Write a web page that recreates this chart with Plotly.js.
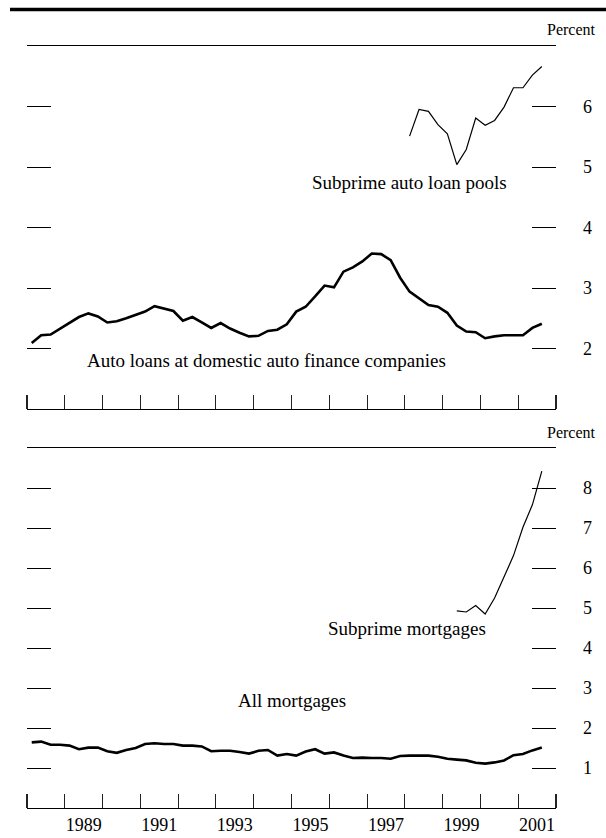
<!DOCTYPE html>
<html>
<head>
<meta charset="utf-8">
<script src="https://cdn.plot.ly/plotly-3.0.1.min.js"></script>
<style>html,body{margin:0;padding:0;background:#fff;}#chart{width:606px;height:838px;}</style>
</head>
<body>
<div id="chart"></div>
<script>
// Quarterly observations, 1988 Q1 to 2001 Q3
const autoFinanceStart = "1988Q1";
const autoFinance = [2.09, 2.22, 2.23, 2.33, 2.42, 2.52, 2.58, 2.53, 2.43, 2.45, 2.50, 2.55, 2.61, 2.70,
  2.66, 2.62, 2.46, 2.52, 2.43, 2.34, 2.42, 2.33, 2.26, 2.20, 2.21, 2.29, 2.31, 2.40,
  2.61, 2.69, 2.86, 3.04, 3.01, 3.27, 3.34, 3.44, 3.57, 3.56, 3.46, 3.17, 2.94, 2.83,
  2.72, 2.69, 2.59, 2.38, 2.28, 2.27, 2.17, 2.20, 2.22, 2.22, 2.22, 2.34, 2.41];

const subprimeAutoStart = "1998Q1";
const subprimeAuto = [5.51, 5.95, 5.92, 5.70, 5.55, 5.04, 5.29, 5.81, 5.69, 5.77, 5.99, 6.31, 6.31, 6.52, 6.66];

const allMortgagesStart = "1988Q1";
const allMortgages = [1.64, 1.66, 1.58, 1.58, 1.56, 1.47, 1.51, 1.51, 1.42, 1.38, 1.45, 1.50, 1.60, 1.62,
  1.60, 1.60, 1.56, 1.56, 1.54, 1.42, 1.43, 1.43, 1.40, 1.36, 1.43, 1.45, 1.31, 1.35,
  1.31, 1.41, 1.47, 1.36, 1.39, 1.31, 1.25, 1.26, 1.25, 1.25, 1.23, 1.30, 1.31, 1.31,
  1.31, 1.28, 1.23, 1.21, 1.19, 1.13, 1.11, 1.14, 1.19, 1.32, 1.35, 1.44, 1.51];

const subprimeMortgagesStart = "1999Q2";
const subprimeMortgages = [4.93, 4.90, 5.06, 4.85, 5.25, 5.77, 6.31, 7.02, 7.58, 8.42];

const yearTicks = [1988, 1989, 1990, 1991, 1992, 1993, 1994, 1995, 1996, 1997, 1998, 1999, 2000, 2001, 2002];
const yearLabels = ["1989", "1991", "1993", "1995", "1997", "1999", "2001"];
const topTicks = [2, 3, 4, 5, 6];
const bottomTicks = [1, 2, 3, 4, 5, 6, 7, 8];

const labels = {
  subAuto: "Subprime auto loan pools",
  autoFin: "Auto loans at domestic auto finance companies",
  subMort: "Subprime mortgages",
  allMort: "All mortgages",
  unit: "Percent"
};

// quarter label -> position in the middle of that quarter
function quarterX(startLabel, n) {
  const y0 = parseInt(startLabel.slice(0, 4), 10);
  const q0 = parseInt(startLabel.slice(5), 10) - 1;
  const xs = [];
  for (let i = 0; i < n; i++) {
    const q = q0 + i;
    xs.push(y0 + Math.floor(q / 4) + ((q % 4) + 0.5) / 4);
  }
  return xs;
}

const FONT = "Liberation Serif, Times New Roman, serif";

const traces = [
  { x: quarterX(autoFinanceStart, autoFinance.length), y: autoFinance, xaxis: "x", yaxis: "y",
    mode: "lines", line: { color: "#000", width: 2.6 }, hoverinfo: "skip" },
  { x: quarterX(subprimeAutoStart, subprimeAuto.length), y: subprimeAuto, xaxis: "x", yaxis: "y",
    mode: "lines", line: { color: "#000", width: 1.2 }, hoverinfo: "skip" },
  { x: quarterX(allMortgagesStart, allMortgages.length), y: allMortgages, xaxis: "x2", yaxis: "y2",
    mode: "lines", line: { color: "#000", width: 2.6 }, hoverinfo: "skip" },
  { x: quarterX(subprimeMortgagesStart, subprimeMortgages.length), y: subprimeMortgages, xaxis: "x2", yaxis: "y2",
    mode: "lines", line: { color: "#000", width: 1.2 }, hoverinfo: "skip" }
];

// plot area: x 27..556, y 46..808
const W = 606, H = 838, L = 27, R = 50, T = 46, B = 30;
const ph = H - T - B, pw = W - L - R;
const py = v => (H - B - v) / ph;
const px = v => (v - L) / pw;

const xCommon = {
  range: [yearTicks[0], yearTicks[yearTicks.length - 1]],
  showgrid: false, zeroline: false,
  showline: true, mirror: true, linecolor: "#000", linewidth: 1.2,
  ticks: "",
  minor: { tickmode: "array", tickvals: yearTicks, ticks: "inside", ticklen: 14, tickwidth: 1.1, tickcolor: "#222", showgrid: false },
  fixedrange: true
};

const yCommon = {
  side: "right", showgrid: false, zeroline: false, showline: false,
  ticks: "inside", ticklen: 24, tickwidth: 1, tickcolor: "#000", mirror: "ticks",
  tickfont: { family: FONT, size: 18, color: "#000" }, ticklabelstandoff: 26,
  tickmode: "array", fixedrange: true
};

const layout = {
  width: W, height: H,
  margin: { l: L, r: R, t: T, b: B },
  paper_bgcolor: "#fff", plot_bgcolor: "#fff",
  showlegend: false,
  font: { family: FONT, size: 18, color: "#000" },
  xaxis: Object.assign({}, xCommon, { anchor: "y", showticklabels: false }),
  xaxis2: Object.assign({}, xCommon, {
    anchor: "y2", tickmode: "array",
    tickvals: yearLabels.map(s => parseInt(s, 10) + 0.5), ticktext: yearLabels,
    tickfont: { family: FONT, size: 18, color: "#000" }
  }),
  yaxis: Object.assign({}, yCommon, { domain: [py(409), 1], range: [1, 7], tickvals: topTicks }),
  yaxis2: Object.assign({}, yCommon, { domain: [0, py(448)], range: [0, 9], tickvals: bottomTicks }),
  shapes: [
    { type: "line", xref: "paper", yref: "paper", x0: px(10), x1: px(606), y0: py(9.5), y1: py(9.5),
      line: { color: "#000", width: 3.5 } }
  ],
  annotations: [
    { text: labels.unit, xref: "paper", yref: "paper", x: px(598), y: py(30), xanchor: "right", yanchor: "middle",
      showarrow: false, font: { family: FONT, size: 16 } },
    { text: labels.unit, xref: "paper", yref: "paper", x: px(598), y: py(432), xanchor: "right", yanchor: "middle",
      showarrow: false, font: { family: FONT, size: 16 } },
    { text: labels.subAuto, xref: "x", yref: "y", x: 1998.13, y: 4.75, showarrow: false, font: { family: FONT, size: 19 } },
    { text: labels.autoFin, xref: "x", yref: "y", x: 1994.35, y: 1.81, showarrow: false, font: { family: FONT, size: 19 } },
    { text: labels.subMort, xref: "x2", yref: "y2", x: 1998.05, y: 4.48, showarrow: false, font: { family: FONT, size: 19 } },
    { text: labels.allMort, xref: "x2", yref: "y2", x: 1995.01, y: 2.7, showarrow: false, font: { family: FONT, size: 19 } }
  ]
};

Plotly.newPlot("chart", traces, layout, { staticPlot: true, displayModeBar: false });
</script>
</body>
</html>
